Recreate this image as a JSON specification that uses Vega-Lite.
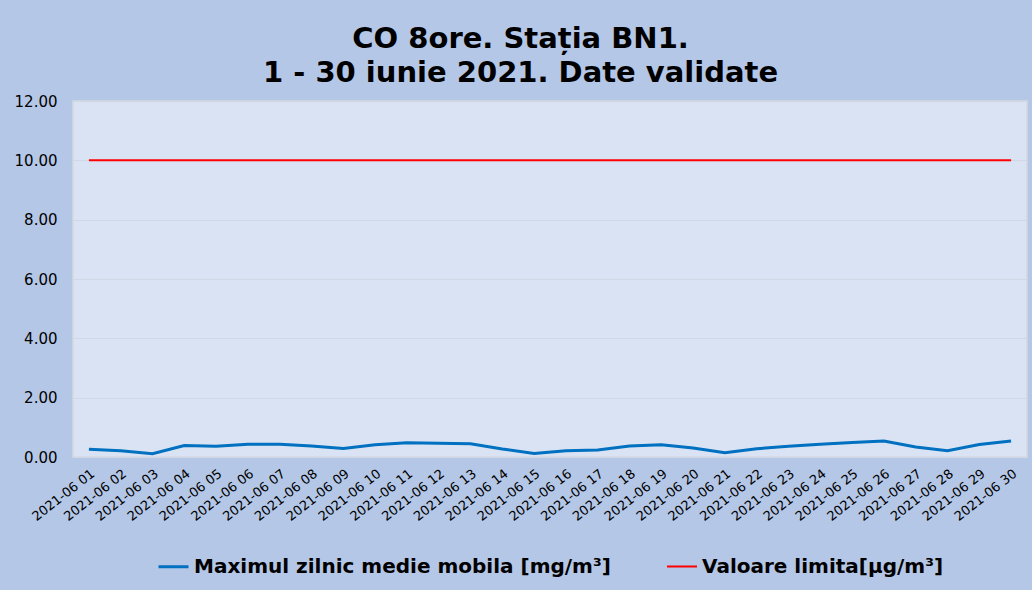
{
  "$schema": "https://vega.github.io/schema/vega-lite/v6.json",
  "width": 954,
  "height": 356,
  "padding": {"left": 14, "top": 25, "right": 5, "bottom": 13},
  "background": "#b4c7e7",
  "title": {
    "text": ["CO 8ore. Stația BN1.", "1 - 30 iunie 2021. Date validate"],
    "font": "DejaVu Sans",
    "fontSize": 29,
    "fontWeight": "bold",
    "color": "#000000",
    "anchor": "middle",
    "frame": "bounds",
    "lineHeight": 34,
    "offset": 6
  },
  "config": {
    "view": {"fill": "#dae3f3", "stroke": "#d3d8e0", "strokeWidth": 1.5},
    "legend": {"layout": {"bottom": {"anchor": "middle"}}}
  },
  "data": {
    "values": [
      {"date": "2021-06 01", "series": "Maximul zilnic medie mobila [mg/m³]", "value": 0.26},
      {"date": "2021-06 02", "series": "Maximul zilnic medie mobila [mg/m³]", "value": 0.21},
      {"date": "2021-06 03", "series": "Maximul zilnic medie mobila [mg/m³]", "value": 0.11},
      {"date": "2021-06 04", "series": "Maximul zilnic medie mobila [mg/m³]", "value": 0.39},
      {"date": "2021-06 05", "series": "Maximul zilnic medie mobila [mg/m³]", "value": 0.36},
      {"date": "2021-06 06", "series": "Maximul zilnic medie mobila [mg/m³]", "value": 0.43},
      {"date": "2021-06 07", "series": "Maximul zilnic medie mobila [mg/m³]", "value": 0.43},
      {"date": "2021-06 08", "series": "Maximul zilnic medie mobila [mg/m³]", "value": 0.37},
      {"date": "2021-06 09", "series": "Maximul zilnic medie mobila [mg/m³]", "value": 0.29},
      {"date": "2021-06 10", "series": "Maximul zilnic medie mobila [mg/m³]", "value": 0.41},
      {"date": "2021-06 11", "series": "Maximul zilnic medie mobila [mg/m³]", "value": 0.48},
      {"date": "2021-06 12", "series": "Maximul zilnic medie mobila [mg/m³]", "value": 0.46},
      {"date": "2021-06 13", "series": "Maximul zilnic medie mobila [mg/m³]", "value": 0.45},
      {"date": "2021-06 14", "series": "Maximul zilnic medie mobila [mg/m³]", "value": 0.27},
      {"date": "2021-06 15", "series": "Maximul zilnic medie mobila [mg/m³]", "value": 0.12},
      {"date": "2021-06 16", "series": "Maximul zilnic medie mobila [mg/m³]", "value": 0.21},
      {"date": "2021-06 17", "series": "Maximul zilnic medie mobila [mg/m³]", "value": 0.24},
      {"date": "2021-06 18", "series": "Maximul zilnic medie mobila [mg/m³]", "value": 0.37},
      {"date": "2021-06 19", "series": "Maximul zilnic medie mobila [mg/m³]", "value": 0.41},
      {"date": "2021-06 20", "series": "Maximul zilnic medie mobila [mg/m³]", "value": 0.30},
      {"date": "2021-06 21", "series": "Maximul zilnic medie mobila [mg/m³]", "value": 0.14},
      {"date": "2021-06 22", "series": "Maximul zilnic medie mobila [mg/m³]", "value": 0.28},
      {"date": "2021-06 23", "series": "Maximul zilnic medie mobila [mg/m³]", "value": 0.36},
      {"date": "2021-06 24", "series": "Maximul zilnic medie mobila [mg/m³]", "value": 0.43},
      {"date": "2021-06 25", "series": "Maximul zilnic medie mobila [mg/m³]", "value": 0.49},
      {"date": "2021-06 26", "series": "Maximul zilnic medie mobila [mg/m³]", "value": 0.54},
      {"date": "2021-06 27", "series": "Maximul zilnic medie mobila [mg/m³]", "value": 0.34},
      {"date": "2021-06 28", "series": "Maximul zilnic medie mobila [mg/m³]", "value": 0.21},
      {"date": "2021-06 29", "series": "Maximul zilnic medie mobila [mg/m³]", "value": 0.42},
      {"date": "2021-06 30", "series": "Maximul zilnic medie mobila [mg/m³]", "value": 0.54},
      {"date": "2021-06 01", "series": "Valoare limita[µg/m³]", "value": 10},
      {"date": "2021-06 02", "series": "Valoare limita[µg/m³]", "value": 10},
      {"date": "2021-06 03", "series": "Valoare limita[µg/m³]", "value": 10},
      {"date": "2021-06 04", "series": "Valoare limita[µg/m³]", "value": 10},
      {"date": "2021-06 05", "series": "Valoare limita[µg/m³]", "value": 10},
      {"date": "2021-06 06", "series": "Valoare limita[µg/m³]", "value": 10},
      {"date": "2021-06 07", "series": "Valoare limita[µg/m³]", "value": 10},
      {"date": "2021-06 08", "series": "Valoare limita[µg/m³]", "value": 10},
      {"date": "2021-06 09", "series": "Valoare limita[µg/m³]", "value": 10},
      {"date": "2021-06 10", "series": "Valoare limita[µg/m³]", "value": 10},
      {"date": "2021-06 11", "series": "Valoare limita[µg/m³]", "value": 10},
      {"date": "2021-06 12", "series": "Valoare limita[µg/m³]", "value": 10},
      {"date": "2021-06 13", "series": "Valoare limita[µg/m³]", "value": 10},
      {"date": "2021-06 14", "series": "Valoare limita[µg/m³]", "value": 10},
      {"date": "2021-06 15", "series": "Valoare limita[µg/m³]", "value": 10},
      {"date": "2021-06 16", "series": "Valoare limita[µg/m³]", "value": 10},
      {"date": "2021-06 17", "series": "Valoare limita[µg/m³]", "value": 10},
      {"date": "2021-06 18", "series": "Valoare limita[µg/m³]", "value": 10},
      {"date": "2021-06 19", "series": "Valoare limita[µg/m³]", "value": 10},
      {"date": "2021-06 20", "series": "Valoare limita[µg/m³]", "value": 10},
      {"date": "2021-06 21", "series": "Valoare limita[µg/m³]", "value": 10},
      {"date": "2021-06 22", "series": "Valoare limita[µg/m³]", "value": 10},
      {"date": "2021-06 23", "series": "Valoare limita[µg/m³]", "value": 10},
      {"date": "2021-06 24", "series": "Valoare limita[µg/m³]", "value": 10},
      {"date": "2021-06 25", "series": "Valoare limita[µg/m³]", "value": 10},
      {"date": "2021-06 26", "series": "Valoare limita[µg/m³]", "value": 10},
      {"date": "2021-06 27", "series": "Valoare limita[µg/m³]", "value": 10},
      {"date": "2021-06 28", "series": "Valoare limita[µg/m³]", "value": 10},
      {"date": "2021-06 29", "series": "Valoare limita[µg/m³]", "value": 10},
      {"date": "2021-06 30", "series": "Valoare limita[µg/m³]", "value": 10}
    ]
  },
  "mark": {"type": "line", "interpolate": "linear"},
  "encoding": {
    "x": {
      "field": "date",
      "type": "ordinal",
      "scale": {"type": "point", "padding": 0.5},
      "axis": {
        "title": null,
        "labelAngle": -38,
        "labelFont": "DejaVu Sans",
        "labelFontSize": 13,
        "labelColor": "#000000",
        "ticks": false,
        "domain": false,
        "grid": false,
        "labelPadding": 10
      }
    },
    "y": {
      "field": "value",
      "type": "quantitative",
      "scale": {"domain": [0, 12], "nice": false},
      "axis": {
        "title": null,
        "values": [0, 2, 4, 6, 8, 10, 12],
        "format": ".2f",
        "labelFont": "DejaVu Sans",
        "labelFontSize": 15,
        "labelColor": "#000000",
        "ticks": false,
        "domain": false,
        "grid": true,
        "gridColor": "#d0d8e6",
        "gridWidth": 1,
        "labelPadding": 16
      }
    },
    "color": {
      "field": "series",
      "type": "nominal",
      "scale": {
        "domain": ["Maximul zilnic medie mobila [mg/m³]", "Valoare limita[µg/m³]"],
        "range": ["#0070c0", "#ff0000"]
      },
      "legend": {
        "title": null,
        "orient": "bottom",
        "direction": "horizontal",
        "symbolType": "stroke",
        "symbolSize": 900,
        "symbolStrokeWidth": 3,
        "labelFont": "DejaVu Sans",
        "labelFontSize": 20,
        "labelFontWeight": "bold",
        "labelColor": "#000000",
        "labelLimit": 700,
        "labelOffset": 4,
        "columnPadding": 52,
        "offset": 26
      }
    },
    "strokeWidth": {
      "field": "series",
      "type": "nominal",
      "scale": {
        "domain": ["Maximul zilnic medie mobila [mg/m³]", "Valoare limita[µg/m³]"],
        "range": [3, 2]
      },
      "legend": null
    }
  }
}
